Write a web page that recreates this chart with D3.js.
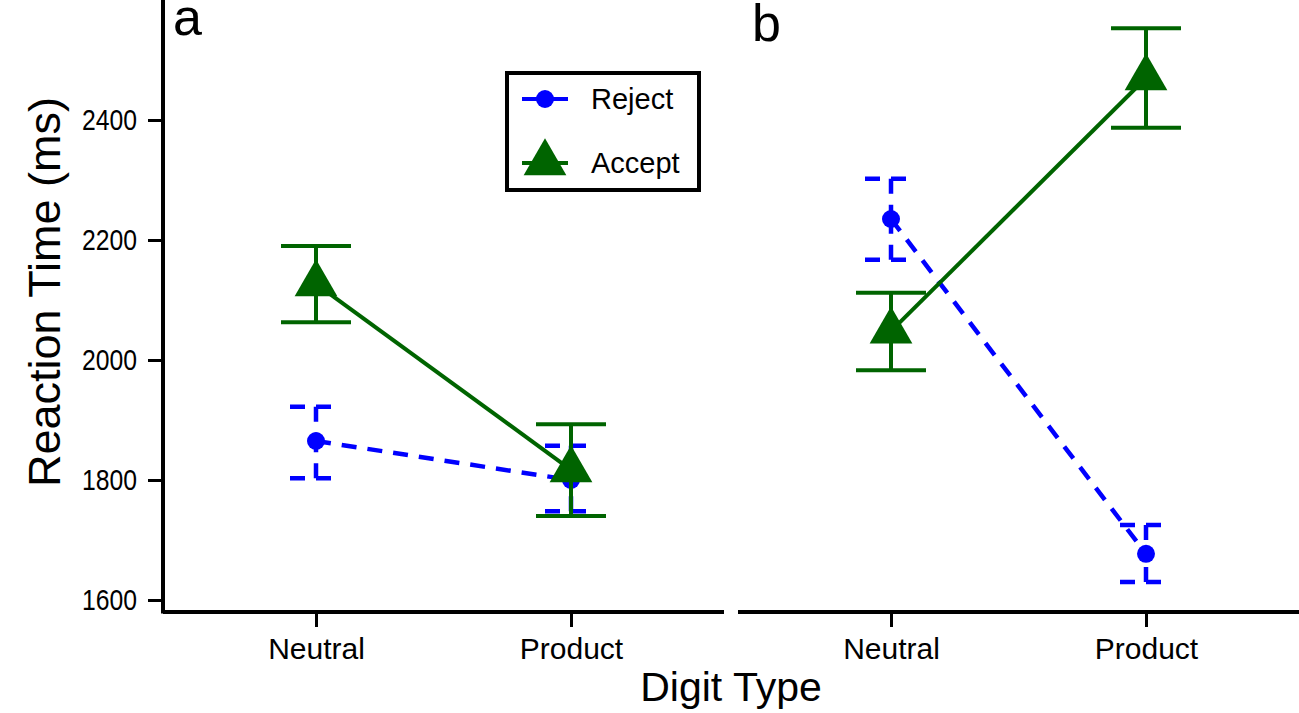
<!DOCTYPE html>
<html>
<head>
<meta charset="utf-8">
<script src="https://cdn.jsdelivr.net/npm/d3@7"></script>
<style>
  html, body { margin: 0; padding: 0; background: #fff; }
  svg { display: block; font-family: "Liberation Sans", Arial, Helvetica, sans-serif; }
</style>
</head>
<body>
<svg id="chart" width="1299" height="713"></svg>
<script>
// ---- data ----
const categories = ["Neutral", "Product"];
const panelLabels = ["a", "b"];
const seriesNames = ["Reject", "Accept"];
const yTicks = [1600, 1800, 2000, 2200, 2400];

const rejectMeanA = [1865, 1800];
const rejectLowA  = [1803, 1748];
const rejectHighA = [1922, 1857];
const acceptMeanA = [2127, 1817];
const acceptLowA  = [2063, 1740];
const acceptHighA = [2190, 1893];

const rejectMeanB = [2235, 1677];
const rejectLowB  = [2167, 1630];
const rejectHighB = [2302, 1725];
const acceptMeanB = [2048, 2470];
const acceptLowB  = [1983, 2387];
const acceptHighB = [2112, 2553];

// ---- layout ----
const svg = d3.select("#chart");
const BLUE = "#0000ff", GREEN = "#006400";
const axisY = 612;
const y = d3.scaleLinear().domain([1600, 2600]).range([600, 0]);
const panelRanges = [[163, 724], [738, 1299]];

const panels = [
  { label: panelLabels[0], reject: [rejectMeanA, rejectLowA, rejectHighA], accept: [acceptMeanA, acceptLowA, acceptHighA] },
  { label: panelLabels[1], reject: [rejectMeanB, rejectLowB, rejectHighB], accept: [acceptMeanB, acceptLowB, acceptHighB] }
];

// y axis (panel a only)
const yAxisG = svg.append("g").attr("transform", `translate(${panelRanges[0][0]},0)`)
  .call(d3.axisLeft(y).tickValues(yTicks).tickFormat(d3.format("d"))
    .tickSize(15).tickPadding(11).tickSizeOuter(0));
yAxisG.select(".domain").remove();
yAxisG.selectAll(".tick line").attr("stroke", "#000").attr("stroke-width", 3);
yAxisG.selectAll(".tick text").attr("font-size", 30).attr("fill", "#000")
  .attr("font-family", "'Liberation Sans', Arial, sans-serif")
  .attr("textLength", 55).attr("lengthAdjust", "spacingAndGlyphs");
svg.append("line").attr("x1", panelRanges[0][0]).attr("x2", panelRanges[0][0])
  .attr("y1", y(2600)).attr("y2", axisY + 1.5).attr("stroke", "#000").attr("stroke-width", 4);

function triPath(h) {
  // R-style triangle: centroid at value, height h
  const w = h * 1.1547;
  return `M0,${-2*h/3}L${w/2},${h/3}L${-w/2},${h/3}Z`;
}

panels.forEach((p, pi) => {
  const x = d3.scalePoint().domain(categories).range(panelRanges[pi]).padding(0.6);
  const g = svg.append("g");

  // x axis
  const xa = g.append("g").attr("transform", `translate(0,${axisY})`)
    .call(d3.axisBottom(x).tickSize(15).tickPadding(11).tickSizeOuter(0));
  xa.select(".domain").remove();
  xa.selectAll(".tick line").attr("stroke", "#000").attr("stroke-width", 3);
  xa.selectAll(".tick text").attr("font-size", 30).attr("fill", "#000")
    .attr("font-family", "'Liberation Sans', Arial, sans-serif");
  g.append("line").attr("x1", panelRanges[pi][0]).attr("x2", panelRanges[pi][1])
    .attr("y1", axisY).attr("y2", axisY).attr("stroke", "#000").attr("stroke-width", 4);

  // Reject (blue dashed)
  const [rm, rl, rh] = p.reject;
  const dash = "15,11";
  const rcap = 26;
  const line = d3.line().x((d, i) => x(categories[i])).y(d => y(d));
  g.append("path").attr("d", line(rm)).attr("fill", "none")
    .attr("stroke", BLUE).attr("stroke-width", 4.5).attr("stroke-dasharray", dash);
  categories.forEach((c, i) => {
    const cx = x(c);
    [rh[i], rl[i]].forEach(v => {
      g.append("path").attr("d", `M${cx - rcap},${y(v)}L${cx},${y(v)}L${cx + rcap},${y(v)}`)
        .attr("fill", "none").attr("stroke", BLUE).attr("stroke-width", 4.5).attr("stroke-dasharray", dash);
      g.append("path").attr("d", `M${cx},${y(v)}L${cx},${y(rm[i])}`)
        .attr("fill", "none").attr("stroke", BLUE).attr("stroke-width", 4.5).attr("stroke-dasharray", dash);
    });
    g.append("circle").attr("cx", cx).attr("cy", y(rm[i])).attr("r", 9).attr("fill", BLUE);
  });

  // Accept (green solid)
  const [am, al, ah] = p.accept;
  const gcap = 35;
  g.append("path").attr("d", line(am)).attr("fill", "none")
    .attr("stroke", GREEN).attr("stroke-width", 4);
  categories.forEach((c, i) => {
    const cx = x(c);
    g.append("line").attr("x1", cx).attr("x2", cx).attr("y1", y(ah[i])).attr("y2", y(al[i]))
      .attr("stroke", GREEN).attr("stroke-width", 4);
    [ah[i], al[i]].forEach(v => {
      g.append("line").attr("x1", cx - gcap).attr("x2", cx + gcap).attr("y1", y(v)).attr("y2", y(v))
        .attr("stroke", GREEN).attr("stroke-width", 4);
    });
    g.append("path").attr("d", triPath(37)).attr("transform", `translate(${cx},${y(am[i])})`).attr("fill", GREEN);
  });

  // panel label
  g.append("text").attr("x", panelRanges[pi][0] + (pi === 0 ? 10 : 14)).attr("y", pi === 0 ? 35 : 41)
    .attr("font-size", 52).attr("fill", "#000").text(p.label);
});

// legend
const lg = svg.append("g");
lg.append("rect").attr("x", 507).attr("y", 73).attr("width", 192).attr("height", 117)
  .attr("fill", "#fff").attr("stroke", "#000").attr("stroke-width", 4);
const legendRows = [99, 163];
seriesNames.forEach((name, i) => {
  const ly = legendRows[i];
  const col = i === 0 ? BLUE : GREEN;
  lg.append("line").attr("x1", 522).attr("x2", 568).attr("y1", ly).attr("y2", ly)
    .attr("stroke", col).attr("stroke-width", 4);
  if (i === 0) lg.append("circle").attr("cx", 545).attr("cy", ly).attr("r", 9).attr("fill", col);
  else lg.append("path").attr("d", triPath(37)).attr("transform", `translate(545,${ly})`).attr("fill", col);
  lg.append("text").attr("x", 591).attr("y", ly).attr("dy", "0.36em")
    .attr("font-size", 29).attr("fill", "#000").text(name);
});

// axis titles
svg.append("text").attr("x", 731).attr("y", 701).attr("text-anchor", "middle")
  .attr("font-size", 41).attr("fill", "#000").text("Digit Type");
svg.append("text").attr("transform", `translate(60,292) rotate(-90)`).attr("text-anchor", "middle")
  .attr("font-size", 45).attr("fill", "#000").text("Reaction Time (ms)");
</script>
</body>
</html>
